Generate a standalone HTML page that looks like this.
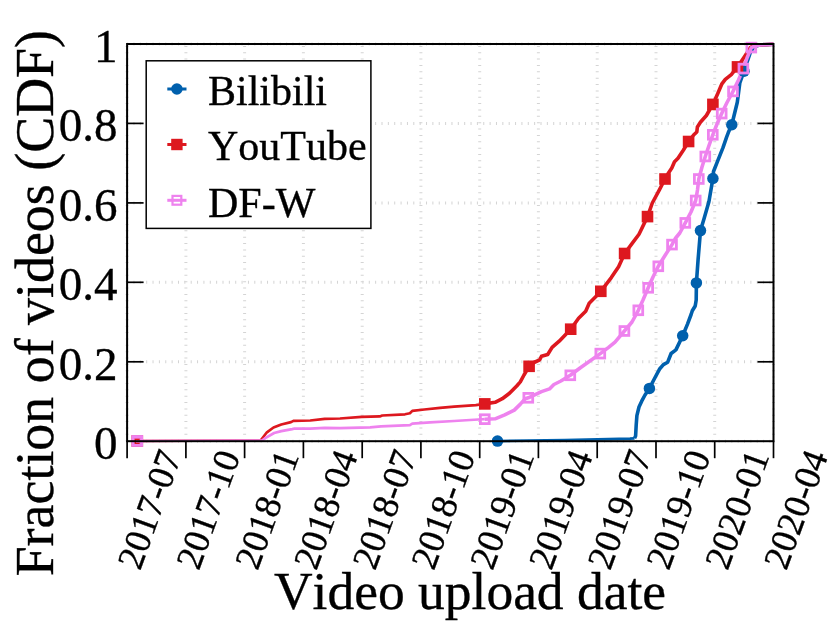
<!DOCTYPE html>
<html><head><meta charset="utf-8"><title>Video upload date CDF</title>
<style>
html,body{margin:0;padding:0;background:#fff;}
body{width:830px;height:623px;overflow:hidden;}
svg{display:block;will-change:transform;}
text{font-family:"Liberation Serif",serif;fill:#000;font-kerning:none;stroke:#000;stroke-width:0.35px;}
.lab{font-size:53.5px;}
.yt{font-size:47px;}
.xt{font-size:36.8px;}
.lg{font-size:42px;}
</style></head><body>
<svg width="830" height="623" viewBox="0 0 830 623">
<rect x="0" y="0" width="830" height="623" fill="#fff"/>

<g stroke="#d4d4d4" stroke-width="3" stroke-dasharray="1 5.36" fill="none">
<path d="M127.1 441.2 V44.0"/>
<path d="M185.9 441.2 V44.0"/>
<path d="M244.6 441.2 V44.0"/>
<path d="M303.4 441.2 V44.0"/>
<path d="M362.2 441.2 V44.0"/>
<path d="M420.9 441.2 V44.0"/>
<path d="M479.7 441.2 V44.0"/>
<path d="M538.4 441.2 V44.0"/>
<path d="M597.2 441.2 V44.0"/>
<path d="M656.0 441.2 V44.0"/>
<path d="M714.7 441.2 V44.0"/>
<path d="M773.5 441.2 V44.0"/>
<path d="M127.1 441.2 H773.5"/>
<path d="M127.1 361.8 H773.5"/>
<path d="M127.1 282.3 H773.5"/>
<path d="M127.1 202.9 H773.5"/>
<path d="M127.1 123.4 H773.5"/>
<path d="M127.1 44.0 H773.5"/>
</g>
<g fill="none" stroke-linejoin="round" stroke-linecap="butt">
<path stroke="#0060ad" stroke-width="2.7" d="M497.5 441.1 L565.0 440.2 L630.0 438.7 L634.5 438.3"/>
<path stroke="#0060ad" stroke-width="3.6" d="M634.5 438.3 L635.6 436.0 L636.2 425.0 L636.9 415.7 L639.0 407.0 L641.7 401.2 L645.0 395.0 L649.4 388.4 L654.0 379.5 L659.8 368.7 L663.4 364.6 L667.7 362.2 L671.1 353.5 L675.9 349.9 L682.7 335.7 L687.5 324.1 L691.1 314.5 L692.3 310.8 L695.2 306.0 L696.2 300.0 L696.4 282.9 L698.1 259.5 L700.5 230.6 L704.1 218.6 L708.9 201.7 L712.9 178.5 L713.5 171.5 L717.7 160.9 L723.0 147.7 L726.6 137.1 L728.3 132.6 L731.8 124.7 L737.3 102.3 L739.8 83.0 L744.0 71.2 L750.6 51.7 L754.2 46.4 L760.0 45.0 L773.5 44.2"/>
<path stroke="#dd181f" stroke-width="2.7" d="M137.3 441.0 L260.5 440.5 L262.5 438.0 L266.9 432.3 L273.5 427.5 L281.3 424.5 L291.0 422.1 L293.4 420.9 L310.2 420.5 L324.7 418.9 L340.0 418.5 L361.7 416.9 L379.8 416.4 L382.2 415.5 L405.0 414.3 L409.9 413.3 L412.3 410.9 L424.3 409.5 L440.0 407.9 L454.1 406.7 L475.8 405.1 L484.8 403.9"/>
<path stroke="#dd181f" stroke-width="3.6" d="M484.8 403.9 L495.1 402.3 L502.3 398.7 L509.5 393.3 L516.7 386.0 L520.3 381.9 L524.0 375.0 L529.1 366.3 L534.0 362.5 L539.7 359.8 L541.5 356.3 L547.7 354.5 L552.1 347.4 L559.2 341.2 L570.7 329.2 L578.6 318.3 L585.7 311.2 L589.2 303.3 L595.4 297.1 L600.8 291.3 L611.3 277.6 L618.6 266.7 L624.6 253.5 L631.8 243.9 L639.0 234.2 L647.5 216.6 L652.3 203.0 L659.5 189.6 L665.0 179.0 L668.5 173.0 L671.8 168.0 L674.5 161.8 L678.0 158.3 L683.3 150.3 L688.6 141.5 L693.6 135.0 L696.8 132.0 L697.4 127.0 L700.4 122.3 L706.4 115.5 L709.5 110.0 L712.9 104.4 L718.1 92.7 L721.7 84.2 L725.3 79.4 L731.3 74.6 L737.5 66.9 L744.6 56.5 L750.6 47.3 L754.2 45.7 L760.0 45.0 L773.5 44.2"/>
<path stroke="#ee82ee" stroke-width="2.7" d="M137.3 441.0 L262.0 440.5 L265.7 437.8 L274.1 433.0 L281.3 431.1 L292.2 429.1 L294.6 428.5 L310.2 428.7 L324.7 427.8 L340.0 428.1 L370.1 427.3 L381.0 426.3 L409.9 425.1 L412.3 423.7 L430.0 422.4 L454.1 421.0 L478.2 419.5 L484.8 419.2"/>
<path stroke="#ee82ee" stroke-width="3.6" d="M484.8 419.2 L495.1 418.8 L504.7 414.9 L514.3 410.1 L520.4 404.1 L525.2 398.8 L528.3 397.8 L541.5 391.6 L549.5 388.9 L553.9 384.5 L560.9 381.0 L570.3 375.3 L580.4 367.7 L589.2 361.6 L600.3 353.6 L608.6 347.4 L615.0 342.1 L624.4 331.0 L632.0 322.0 L638.3 310.3 L643.0 300.0 L648.2 287.8 L653.0 277.0 L658.3 266.3 L665.0 255.5 L672.0 244.6 L675.3 238.5 L679.8 233.0 L685.3 222.9 L691.0 212.0 L695.7 200.5 L697.5 190.0 L698.8 179.0 L702.0 167.0 L705.3 156.5 L709.0 145.5 L712.8 134.8 L717.0 124.0 L721.7 113.6 L727.0 102.5 L733.0 91.4 L738.5 80.0 L743.4 68.6 L747.0 58.0 L751.3 47.6 L755.0 46.0 L760.0 45.0 L773.5 44.2"/>
</g>
<g fill="#0060ad">
<circle cx="497.5" cy="441.1" r="5.75"/>
<circle cx="649.4" cy="388.4" r="5.75"/>
<circle cx="682.7" cy="335.7" r="5.75"/>
<circle cx="696.4" cy="282.9" r="5.75"/>
<circle cx="700.5" cy="230.6" r="5.75"/>
<circle cx="712.9" cy="178.5" r="5.75"/>
<circle cx="731.8" cy="124.7" r="5.75"/>
<circle cx="744.0" cy="71.2" r="5.75"/>
</g>
<g fill="#dd181f">
<rect x="131.5" y="435.2" width="11.6" height="11.6"/>
<rect x="479.0" y="398.1" width="11.6" height="11.6"/>
<rect x="523.3" y="360.5" width="11.6" height="11.6"/>
<rect x="564.9" y="323.4" width="11.6" height="11.6"/>
<rect x="595.0" y="285.5" width="11.6" height="11.6"/>
<rect x="618.8" y="247.7" width="11.6" height="11.6"/>
<rect x="641.7" y="210.8" width="11.6" height="11.6"/>
<rect x="659.2" y="173.2" width="11.6" height="11.6"/>
<rect x="682.8" y="135.7" width="11.6" height="11.6"/>
<rect x="707.1" y="98.6" width="11.6" height="11.6"/>
<rect x="731.7" y="61.1" width="11.6" height="11.6"/>
</g>
<g fill="none" stroke="#ee82ee" stroke-width="2.8">
<rect x="132.9" y="436.6" width="8.8" height="8.8"/>
<rect x="480.4" y="414.8" width="8.8" height="8.8"/>
<rect x="523.9" y="393.4" width="8.8" height="8.8"/>
<rect x="565.9" y="370.9" width="8.8" height="8.8"/>
<rect x="595.9" y="349.2" width="8.8" height="8.8"/>
<rect x="620.0" y="326.6" width="8.8" height="8.8"/>
<rect x="633.9" y="305.9" width="8.8" height="8.8"/>
<rect x="643.8" y="283.4" width="8.8" height="8.8"/>
<rect x="653.9" y="261.9" width="8.8" height="8.8"/>
<rect x="667.6" y="240.2" width="8.8" height="8.8"/>
<rect x="680.9" y="218.5" width="8.8" height="8.8"/>
<rect x="691.3" y="196.1" width="8.8" height="8.8"/>
<rect x="694.4" y="174.6" width="8.8" height="8.8"/>
<rect x="700.9" y="152.1" width="8.8" height="8.8"/>
<rect x="708.4" y="130.4" width="8.8" height="8.8"/>
<rect x="717.3" y="109.2" width="8.8" height="8.8"/>
<rect x="728.6" y="87.0" width="8.8" height="8.8"/>
<rect x="739.0" y="64.2" width="8.8" height="8.8"/>
<rect x="746.9" y="43.2" width="8.8" height="8.8"/>
</g>
<rect x="131.8" y="435.3" width="11" height="11" fill="#ee82ee" opacity="0.85"/>
<path d="M139.6 439.3 H135.3 V443.3 H139.6" fill="none" stroke="#dd181f" stroke-width="1.3"/>
<rect x="127.1" y="44.0" width="646.4" height="397.2" fill="none" stroke="#000" stroke-width="2"/>
<g stroke="#000" stroke-width="1.7" fill="none">
<path d="M127.1 441.2 V458.2"/>
<path d="M185.9 441.2 V458.2"/>
<path d="M244.6 441.2 V458.2"/>
<path d="M303.4 441.2 V458.2"/>
<path d="M362.2 441.2 V458.2"/>
<path d="M420.9 441.2 V458.2"/>
<path d="M479.7 441.2 V458.2"/>
<path d="M538.4 441.2 V458.2"/>
<path d="M597.2 441.2 V458.2"/>
<path d="M656.0 441.2 V458.2"/>
<path d="M714.7 441.2 V458.2"/>
<path d="M773.5 441.2 V458.2"/>
<path d="M127.1 361.8 H143.6"/>
<path d="M773.5 361.8 H757.5"/>
<path d="M127.1 282.3 H143.6"/>
<path d="M773.5 282.3 H757.5"/>
<path d="M127.1 202.9 H143.6"/>
<path d="M773.5 202.9 H757.5"/>
<path d="M127.1 123.4 H143.6"/>
<path d="M773.5 123.4 H757.5"/>
</g>
<text class="yt" x="117.6" y="458.9" text-anchor="end">0</text>
<text class="yt" x="117.6" y="379.5" text-anchor="end">0.2</text>
<text class="yt" x="117.6" y="300.0" text-anchor="end">0.4</text>
<text class="yt" x="117.6" y="220.6" text-anchor="end">0.6</text>
<text class="yt" x="117.6" y="141.1" text-anchor="end">0.8</text>
<text class="yt" x="117.6" y="61.7" text-anchor="end">1</text>
<text class="xt" transform="translate(149.6 509.5) rotate(-70)" text-anchor="middle" dy="12">2017-07</text>
<text class="xt" transform="translate(208.4 509.5) rotate(-70)" text-anchor="middle" dy="12">2017-10</text>
<text class="xt" transform="translate(267.1 509.5) rotate(-70)" text-anchor="middle" dy="12">2018-01</text>
<text class="xt" transform="translate(325.9 509.5) rotate(-70)" text-anchor="middle" dy="12">2018-04</text>
<text class="xt" transform="translate(384.7 509.5) rotate(-70)" text-anchor="middle" dy="12">2018-07</text>
<text class="xt" transform="translate(443.4 509.5) rotate(-70)" text-anchor="middle" dy="12">2018-10</text>
<text class="xt" transform="translate(502.2 509.5) rotate(-70)" text-anchor="middle" dy="12">2019-01</text>
<text class="xt" transform="translate(560.9 509.5) rotate(-70)" text-anchor="middle" dy="12">2019-04</text>
<text class="xt" transform="translate(619.7 509.5) rotate(-70)" text-anchor="middle" dy="12">2019-07</text>
<text class="xt" transform="translate(678.5 509.5) rotate(-70)" text-anchor="middle" dy="12">2019-10</text>
<text class="xt" transform="translate(737.2 509.5) rotate(-70)" text-anchor="middle" dy="12">2020-01</text>
<text class="xt" transform="translate(796.0 509.5) rotate(-70)" text-anchor="middle" dy="12">2020-04</text>
<text class="lab" x="470" y="608.6" text-anchor="middle">Video upload date</text>
<text class="lab" style="font-size:53.9px" transform="translate(53.0 303.2) rotate(-90)" text-anchor="middle">Fraction of videos (CDF)</text>
<rect x="146.2" y="60.8" width="224.7" height="167.6" fill="#fff" stroke="#000" stroke-width="1.5"/>
<path d="M167.3 89.0 H186.5" stroke="#0060ad" stroke-width="3"/>
<circle cx="176.9" cy="89.0" r="5.75" fill="#0060ad"/>
<path d="M167.3 144.5 H186.5" stroke="#dd181f" stroke-width="3"/>
<rect x="171.2" y="138.8" width="11.4" height="11.4" fill="#dd181f"/>
<path d="M167.3 200.3 H186.5" stroke="#ee82ee" stroke-width="3"/>
<rect x="172.5" y="195.9" width="8.8" height="8.8" fill="none" stroke="#ee82ee" stroke-width="2.2"/>
<text class="lg" x="208" y="105.1">Bilibili</text>
<text class="lg" x="208" y="160.3">YouTube</text>
<text class="lg" x="208" y="216.5">DF-W</text>
</svg></body></html>
